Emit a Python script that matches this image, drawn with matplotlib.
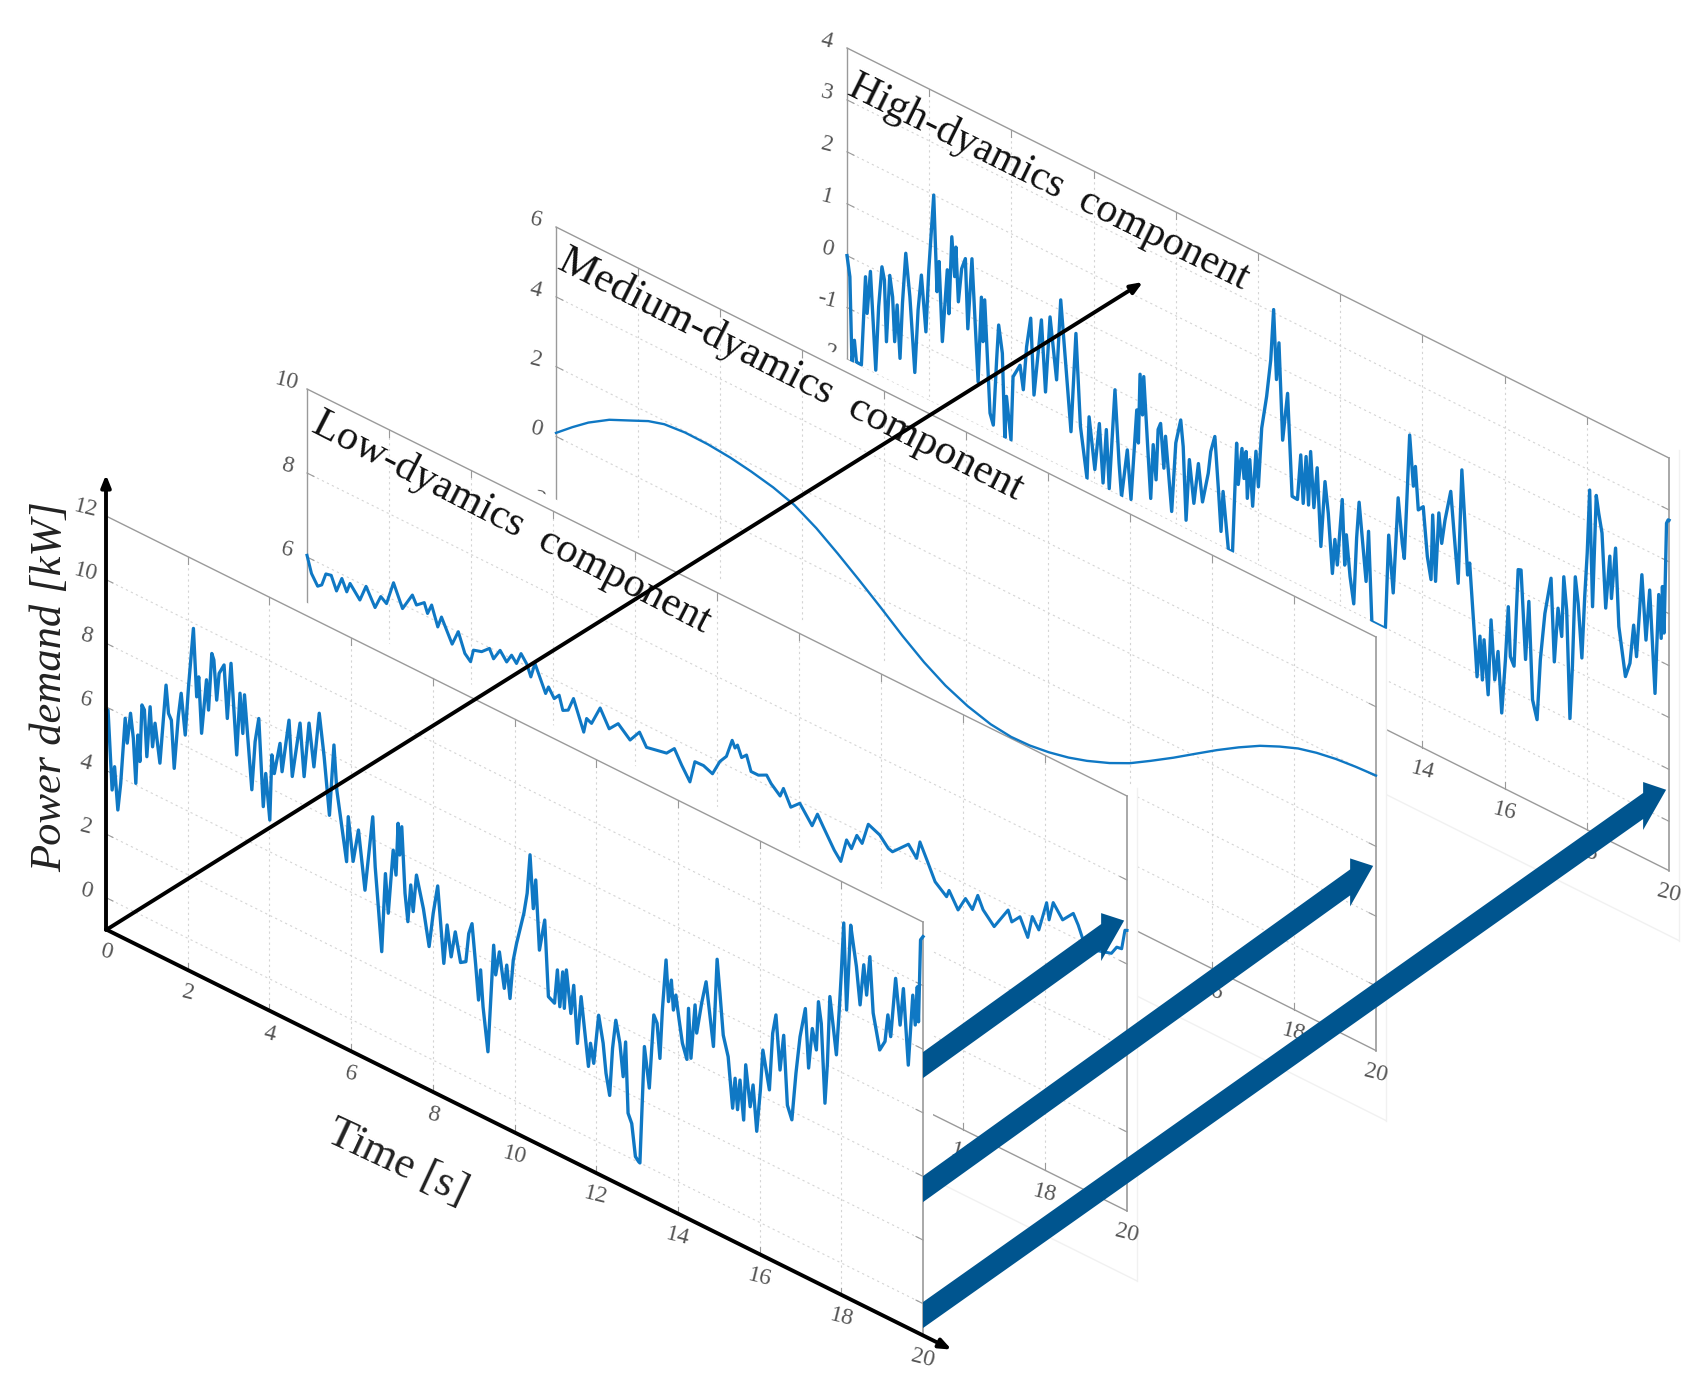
import numpy as np
import matplotlib
matplotlib.use('Agg')
import matplotlib.pyplot as plt
from matplotlib.patches import Polygon
from matplotlib.transforms import Affine2D, offset_copy

plt.rcParams['font.family'] = ['Liberation Serif', 'DejaVu Serif']

time_ticks = list(range(0, 21, 2))

front_t = [0, .05, .10, .15, .21, .29, .36, .47, .52, .60, .67, .73, .78, .83, .88, .94, 1.00, 1.08, 1.14, 1.20,
           1.32, 1.47, 1.53, 1.60, 1.67, 1.77, 1.84, 1.94, 2.02, 2.14, 2.22, 2.27, 2.34, 2.46, 2.51, 2.59, 2.64, 2.71,
           2.77, 2.89, 2.97, 3.06, 3.20, 3.28, 3.35, 3.39, 3.57, 3.65, 3.74, 3.85, 3.91, 4.01, 4.06, 4.12, 4.26, 4.31,
           4.48, 4.56, 4.75, 4.85, 4.97, 5.09, 5.22, 5.34, 5.47, 5.58, 5.65, 5.74, 5.89, 5.93, 6.05, 6.18, 6.34, 6.53,
           6.59, 6.66, 6.75, 6.84, 6.91, 7.03, 7.10, 7.15, 7.19, 7.24, 7.32, 7.39, 7.46, 7.52, 7.60, 7.77, 7.91, 8.01,
           8.12, 8.27, 8.35, 8.45, 8.55, 8.68, 8.81, 8.88, 8.96, 9.05, 9.12, 9.17, 9.23, 9.35, 9.49, 9.54, 9.63, 9.75,
           9.81, 9.89, 9.97, 10.05, 10.23, 10.31, 10.38, 10.46, 10.52, 10.61, 10.74, 10.83, 10.98, 11.05, 11.11, 11.18,
           11.22, 11.27, 11.38, 11.45, 11.54, 11.63, 11.81, 11.86, 11.94, 12.06, 12.17, 12.24, 12.33, 12.40, 12.48,
           12.58, 12.66, 12.72, 12.78, 12.87, 12.96, 13.04, 13.07, 13.18, 13.30, 13.35, 13.41, 13.49, 13.56, 13.62,
           13.71, 13.77, 13.84, 13.89, 13.95, 14.03, 14.11, 14.22, 14.26, 14.32, 14.42, 14.46, 14.58, 14.69, 14.77,
           14.87, 14.96, 15.03, 15.11, 15.23, 15.34, 15.40, 15.46, 15.52, 15.61, 15.66, 15.77, 15.84, 15.93, 16.02,
           16.08, 16.24, 16.32, 16.40, 16.50, 16.59, 16.68, 16.79, 16.89, 16.99, 17.12, 17.20, 17.29, 17.39, 17.44,
           17.51, 17.60, 17.66, 17.72, 17.88, 17.95, 18.00, 18.06, 18.13, 18.23, 18.29, 18.37, 18.46, 18.55, 18.62,
           18.70, 18.78, 18.94, 19.07, 19.14, 19.21, 19.33, 19.44, 19.52, 19.64, 19.75, 19.81, 19.86, 19.89, 19.94, 20]
front_power = [5.90, 5.93, 4.71, 3.48, 4.25, 2.94, 3.82, 5.94, 5.19, 6.18, 5.43, 4.06, 5.61, 4.81, 6.62, 6.50, 5.07, 6.69,
               5.47, 6.25, 5.07, 7.62, 6.77, 6.60, 5.13, 6.82, 7.60, 6.35, 7.92, 9.83, 7.73, 8.39, 6.66, 8.42, 7.50, 9.33,
               9.16, 7.94, 8.82, 9.16, 7.53, 9.32, 6.53, 8.52, 7.30, 8.54, 5.67, 7.23, 8.02, 5.32, 6.40, 5.00, 7.08, 6.53,
               7.57, 6.71, 8.44, 6.72, 8.52, 6.90, 8.66, 7.36, 9.13, 7.84, 6.08, 8.36, 6.99, 6.21, 4.89, 6.33, 5.00, 6.07,
               4.28, 6.71, 5.17, 4.07, 2.61, 5.12, 3.92, 5.98, 5.24, 6.90, 5.93, 6.85, 4.81, 3.96, 5.16, 4.36, 5.56, 4.61,
               3.51, 4.62, 5.55, 3.21, 4.47, 3.53, 4.38, 3.50, 3.61, 4.54, 4.90, 3.66, 2.60, 3.58, 2.46, 1.12, 4.56, 3.66,
               4.44, 3.37, 4.14, 3.14, 4.40, 4.97, 6.04, 6.72, 7.97, 6.33, 7.27, 5.12, 6.15, 3.80, 3.69, 4.78, 3.66, 4.80,
               3.68, 4.92, 3.62, 4.55, 2.78, 4.31, 2.23, 2.99, 2.41, 4.00, 3.19, 2.29, 1.65, 3.17, 4.11, 3.45, 2.45, 3.58,
               1.38, 1.11, .13, .02, 0, 3.73, 2.50, 3.58, 4.87, 4.66, 3.60, 5.16, 6.79, 5.52, 6.24, 5.33, 5.84, 5.11, 4.43,
               3.99, 5.62, 4.09, 5.83, 4.97, 5.98, 6.73, 5.89, 4.81, 7.61, 6.58, 5.32, 4.72, 3.17, 4.15, 3.20, 4.17, 2.97,
               4.74, 3.49, 4.22, 2.82, 4.19, 5.47, 4.32, 6.15, 6.78, 5.11, 6.26, 4.12, 3.73, 5.26, 6.47, 7.44, 5.62, 6.92,
               6.31, 7.86, 7.22, 4.77, 6.06, 8.20, 6.47, 7.92, 9.11, 10.73, 8.04, 10.77, 10.24, 9.56, 8.41, 9.73, 8.82,
               10.08, 8.36, 7.30, 7.65, 8.53, 7.89, 9.80, 8.40, 9.60, 7.27, 9.54, 8.64, 9.87, 8.79, 11.40, 11.54]

low_t = [0, .11, .26, .36, .46, .59, .72, .85, .97, 1.05, 1.29, 1.44, 1.66, 1.80, 1.94, 2.11, 2.33, 2.57, 2.67, 2.86, 2.94,
         3.04, 3.19, 3.28, 3.54, 3.69, 3.85, 3.99, 4.06, 4.26, 4.45, 4.55, 4.71, 4.87, 4.99, 5.11, 5.22, 5.36, 5.46, 5.56,
         5.82, 5.89, 6.03, 6.15, 6.24, 6.37, 6.50, 6.75, 6.82, 6.94, 7.15, 7.37, 7.59, 7.88, 8.11, 8.28, 8.77, 8.96, 9.14,
         9.34, 9.46, 9.67, 9.89, 10.07, 10.23, 10.37, 10.44, 10.50, 10.60, 10.72, 10.83, 11.01, 11.21, 11.32, 11.54, 11.62,
         11.80, 12.02, 12.32, 12.45, 12.59, 12.86, 13.02, 13.16, 13.28, 13.41, 13.54, 13.69, 13.97, 14.18, 14.28, 14.67,
         14.87, 14.95, 15.15, 15.32, 15.60, 15.66, 15.88, 16.06, 16.23, 16.36, 16.49, 16.76, 17.10, 17.19, 17.39, 17.58,
         17.69, 17.85, 18.04, 18.10, 18.20, 18.43, 18.69, 18.81, 18.93, 19.22, 19.62, 19.75, 19.87, 19.95, 20]
low_power = [6.04, 5.66, 5.43, 5.51, 5.82, 5.85, 5.54, 5.90, 5.64, 5.88, 5.60, 6.00, 5.60, 5.93, 5.83, 6.41, 5.90, 6.34, 6.15,
             6.30, 6.08, 6.33, 5.88, 6.16, 5.64, 6.01, 5.57, 5.44, 5.75, 5.81, 5.98, 5.78, 6.06, 5.86, 6.08, 5.94, 6.23, 6.05,
             5.79, 6.16, 5.57, 5.76, 5.55, 5.69, 5.37, 5.44, 5.78, 5.10, 5.46, 5.40, 5.87, 5.48, 5.71, 5.46, 5.76, 5.48, 5.58,
             5.78, 5.47, 5.17, 5.71, 5.72, 5.63, 6.01, 6.21, 6.66, 6.51, 6.61, 6.36, 6.48, 6.14, 6.14, 6.24, 6.09, 5.90, 6.12,
             5.76, 5.96, 5.57, 5.91, 5.68, 5.25, 5.06, 5.64, 5.49, 5.87, 5.74, 6.27, 6.15, 5.93, 5.90, 6.27, 6.03, 6.46, 6.05,
             5.69, 5.47, 5.65, 5.29, 5.65, 5.47, 5.87, 5.59, 5.32, 5.88, 5.64, 5.86, 5.46, 6.01, 5.77, 6.51, 6.13, 6.59, 6.29,
             6.57, 6.35, 6.05, 5.95, 6.07, 6.28, 6.30, 6.78, 6.80]

medium_t = [0, .4, .79, 1.3, 1.85, 2.25, 2.64, 3.15, 3.70, 4.25, 4.76, 5.3, 5.81, 6.35, 6.87, 7.4, 7.93, 8.45, 8.98, 9.5, 10.04,
            10.6, 11.1, 11.55, 12.02, 12.5, 12.95, 13.5, 14.0, 14.5, 15.06, 15.6, 16.12, 16.65, 17.17, 17.65, 18.10, 18.55,
            19.02, 19.5, 20]
medium_power = [.1, .5, .86, 1.24, 1.54, 1.76, 1.9, 1.96, 1.95, 1.89, 1.79, 1.65, 1.45, 1.1, .68, .22, -.26, -.75, -1.2, -1.56,
                -1.83, -2.02, -2.09, -2.07, -1.99, -1.86, -1.69, -1.43, -1.14, -.78, -.36, .07, .48, .87, 1.22, 1.48, 1.69,
                1.83, 1.93, 1.99, 2.03]

high_t = [0, .07, .12, .18, .23, .35, .45, .49, .57, .70, .77, .85, .91, .96, 1.04, 1.11, 1.16, 1.22, 1.29, 1.35, 1.43, 1.53, 1.65,
          1.73, 1.81, 1.92, 1.99, 2.11, 2.19, 2.24, 2.32, 2.44, 2.48, 2.55, 2.62, 2.65, 2.71, 2.79, 2.88, 2.94, 3.04, 3.19, 3.27,
          3.31, 3.35, 3.48, 3.56, 3.64, 3.69, 3.78, 3.84, 3.88, 3.99, 4.04, 4.21, 4.29, 4.37, 4.47, 4.55, 4.73, 4.83, 4.94, 5.10,
          5.20, 5.33, 5.45, 5.57, 5.68, 5.84, 5.89, 6.03, 6.14, 6.23, 6.31, 6.38, 6.52, 6.62, 6.68, 6.82, 6.91, 7.05, 7.09, 7.13,
          7.19, 7.22, 7.33, 7.39, 7.45, 7.52, 7.57, 7.63, 7.71, 7.75, 7.90, 8.00, 8.12, 8.18, 8.25, 8.33, 8.44, 8.55, 8.65, 8.79,
          8.85, 8.95, 9.04, 9.10, 9.15, 9.28, 9.38, 9.48, 9.52, 9.61, 9.66, 9.71, 9.74, 9.80, 9.87, 9.95, 10.01, 10.09, 10.21,
          10.31, 10.38, 10.45, 10.51, 10.60, 10.72, 10.83, 10.96, 11.04, 11.10, 11.17, 11.23, 11.28, 11.36, 11.44, 11.53, 11.63,
          11.71, 11.81, 11.87, 11.93, 12.05, 12.11, 12.15, 12.24, 12.33, 12.40, 12.46, 12.63, 12.69, 12.77, 13.10, 13.18, 13.29,
          13.41, 13.51, 13.56, 13.69, 13.78, 13.83, 13.90, 14.02, 14.12, 14.21, 14.25, 14.32, 14.40, 14.47, 14.55, 14.69, 14.77,
          14.87, 14.96, 15.03, 15.10, 15.15, 15.21, 15.29, 15.33, 15.40, 15.46, 15.50, 15.60, 15.67, 15.76, 15.84, 15.93, 16.02,
          16.09, 16.14, 16.23, 16.33, 16.40, 16.51, 16.59, 16.68, 16.79, 16.87, 16.98, 17.13, 17.21, 17.30, 17.39, 17.44, 17.51,
          17.59, 17.65, 17.72, 17.79, 17.88, 17.95, 18.01, 18.07, 18.14, 18.23, 18.29, 18.37, 18.46, 18.56, 18.60, 18.70, 18.78,
          18.94, 19.05, 19.14, 19.21, 19.34, 19.44, 19.53, 19.66, 19.75, 19.81, 19.84, 19.88, 19.94, 19.98, 20]
high_power = [0, -.38, -2.00, -1.56, -1.96, -1.97, -.23, -.92, -.08, -1.93, -.68, .12, -.11, -1.28, .03, -.36, -1.20, -.47, -1.47,
              -.38, .61, -.19, -1.60, -.36, .34, -.71, .51, 2.00, .17, .77, -.74, .69, -.14, 1.37, .63, 1.21, .18, .85, 1.08, -.25,
              1.14, -1.17, .49, -.35, .47, -1.66, -1.86, -.58, .12, -.39, -2.00, -1.18, -1.98, -.74, -.45, -.89, -.03, .56, -.89,
              .63, -.72, .77, -.38, 1.20, -.07, -1.24, .70, -1.05, -1.99, -.78, -1.74, -.81, -1.92, -.86, -1.97, -.01, -1.39, -2.01,
              -1.05, -1.97, -.19, -.81, .53, -.23, .52, -.98, -1.76, -.70, -1.35, -.36, -.22, -1.05, -.42, -1.81, -.45, .04, -.45,
              -1.84, -.64, -1.44, -.63, -1.33, -.72, -.28, .05, -.97, -1.72, -.93, -2.01, -2.00, .13, -.65, .08, -.48, .06, -.83,
              -.06, -.93, .16, -.50, .66, 1.32, 2.06, 3.06, 1.74, 2.47, .63, 1.58, -.36, -.37, .52, -.39, .54, -.37, .68, -.37, .43,
              -1.05, .24, -.34, -1.46, -.78, -1.25, .06, -1.18, -.58, -1.35, -1.84, -.54, .17, -1.29, -.30, -2.01, -2.01, -.18,
              -1.25, .63, -.21, -.48, 1.95, 1.00, 1.40, .59, .70, -.22, -.63, .63, -.62, .73, .17, .65, 1.26, .49, -.44, 1.78, .84,
              -.19, .06, -.63, -1.55, -2.06, -1.25, -2.07, -1.28, -2.30, -.83, -1.95, -1.37, -2.52, -1.46, -.41, -1.35, -1.50, .40,
              .42, -1.26, -.11, -1.97, -2.31, -1.12, -.19, .55, -1.03, .04, -.47, .70, .09, -1.97, -.94, .81, .33, -.69, .53, 1.38,
              2.62, .40, 2.58, 2.26, 1.91, .50, 1.54, .74, 1.75, .27, -.63, -.33, .44, -.14, 1.49, .27, 1.27, -.67, 1.27, .45, 1.46,
              .58, 2.72, 2.80, 2.80]

power_ticks_front = list(range(0, 13, 2))
power_ticks_low = list(range(2, 11, 2))
power_ticks_medium = list(range(-4, 7, 2))
power_ticks_high = list(range(-3, 5))

blue = '#0f78c4'
arrow_blue = '#00558f'
edge_gray = '#9a9a9a'
grid_gray = '#d4d4d4'
label_gray = '#555555'
sheet_gray = '#f1f1f1'

fig = plt.figure(figsize=(17.02, 13.97), dpi=100)
ax = fig.add_axes([0, 0, 1, 1])
ax.set_xlim(0, 1702)
ax.set_ylim(1397, 0)
ax.axis('off')


def panel_transform(x0, y0, dx, dy, unit, vtop):
    # skewed (t, value) -> picture pixels
    return Affine2D(np.array([[dx, 0, x0], [dy, -unit, y0 + unit * vtop], [0, 0, 1]])) + ax.transData


def draw_panel(x0, y0, dx, dy, unit, vbot, vtop, yticks, z, first_label=0, back=True):
    tr = panel_transform(x0, y0, dx, dy, unit, vtop)

    # white sheet the panel sits on, it hides whatever is behind
    sheet_t = [-45 / dx, 20 + 10 / dx, 20 + 10 / dx, -45 / dx]
    sheet_v = [vtop + 13 / unit, vtop + 13 / unit, vbot - 65 / unit, vbot - 65 / unit]
    ax.add_patch(Polygon(np.column_stack([sheet_t, sheet_v]), closed=True, facecolor='white', edgecolor='none',
                         transform=tr, zorder=z))
    if back:
        ax.plot(sheet_t[1:3], sheet_v[1:3], color=sheet_gray, lw=1, transform=tr, zorder=z)
        ax.plot([12, 20 + 10 / dx], sheet_v[2:], color=sheet_gray, lw=1, transform=tr, zorder=z)

    for t in time_ticks[1:-1]:
        ax.plot([t, t], [vbot, vtop], color=grid_gray, lw=0.8, ls=(0, (2, 3)), transform=tr, zorder=z + 1)
        ax.plot([t, t], [vbot, vbot + 7 / unit], color=edge_gray, lw=0.8, transform=tr, zorder=z + 1)
        ax.plot([t, t], [vtop, vtop - 7 / unit], color=edge_gray, lw=0.8, transform=tr, zorder=z + 1)
    for v in yticks:
        if v == vtop:
            continue
        ax.plot([0, 20], [v, v], color=grid_gray, lw=0.8, ls=(0, (2, 3)), transform=tr, zorder=z + 1)
        ax.plot([0, 0.17], [v, v], color=edge_gray, lw=0.8, transform=tr, zorder=z + 1)
        ax.plot([19.83, 20], [v, v], color=edge_gray, lw=0.8, transform=tr, zorder=z + 1)

    ax.plot([0, 20], [vtop, vtop], color=edge_gray, lw=1, transform=tr, zorder=z + 1)
    ax.plot([20, 20], [vbot, vtop], color=edge_gray, lw=1.2, transform=tr, zorder=z + 1)
    if back:
        ax.plot([0, 20], [vbot, vbot], color=edge_gray, lw=1, transform=tr, zorder=z + 1)
        ax.plot([0, 0], [vbot, vtop], color=edge_gray, lw=1, transform=tr, zorder=z + 1)

    ylab = offset_copy(tr, fig=fig, x=-20, y=7, units='dots')
    for v in yticks:
        ax.text(0, v, str(v), transform=ylab, ha='center', va='center', rotation=-14, rotation_mode='anchor',
                fontsize=17, color=label_gray, zorder=z + 1)
    xlab = offset_copy(tr, fig=fig, x=0, y=-23, units='dots')
    for t in time_ticks:
        if t >= first_label:
            ax.text(t, vbot, str(t), transform=xlab, ha='center', va='center', rotation=-14, rotation_mode='anchor',
                    fontsize=17, color=label_gray, zorder=z + 1)
    return tr


tr_high = draw_panel(847, 48, 41.1, 20.5, 51.9, -3.95, 4, power_ticks_high, 10, first_label=14)
ax.plot(high_t, high_power, color=blue, lw=2.4, transform=tr_high, zorder=12)

tr_medium = draw_panel(556, 227, 41, 20.5, 34.9, -5.85, 6, power_ticks_medium, 20, first_label=16)

tr_low = draw_panel(307, 389, 41, 20.35, 42, 0.12, 10, power_ticks_low, 30, first_label=16)
ax.plot(low_t, low_power, color=blue, lw=2.2, transform=tr_low, zorder=32)
# the smooth component stays visible over the edge of the next sheet
ax.plot(medium_t, medium_power, color=blue, lw=1.7, transform=tr_medium, zorder=33)

tr_front = draw_panel(106, 516, 40.85, 20.3, 31.8, -1, 12, power_ticks_front, 40, back=False)
ax.plot(front_t, front_power, color=blue, lw=2.4, transform=tr_front, zorder=42)


# thick arrows from the total power to each component
def component_arrow(v_from, tr_to, v_to):
    x0, y0 = tr_front.transform((20, v_from))
    x1, y1 = tr_to.transform((19.93, v_to))
    x0, y0 = ax.transData.inverted().transform((x0, y0))
    x1, y1 = ax.transData.inverted().transform((x1, y1))
    slope = (y1 - y0) / (x1 - x0)
    xb = x1 - 23
    yb = y1 - 23 * slope
    outline = [(x0, y0 - 13), (xb, yb - 13), (xb, yb - 24), (x1, y1), (xb, yb + 24), (xb, yb + 13), (x0, y0 + 13)]
    ax.add_patch(Polygon(outline, closed=True, facecolor=arrow_blue, edgecolor='none', zorder=55))


component_arrow(7.5, tr_low, 7.0)
component_arrow(3.6, tr_medium, -0.6)
component_arrow(-0.36, tr_high, -2.42)

# black axes of the whole drawing
black_props = dict(arrowstyle='-|>,head_length=0.7,head_width=0.28', color='black', lw=2.8, shrinkA=0, shrinkB=0)
ax.annotate('', xy=(0, 13.3), xytext=(0, -1), xycoords=tr_front, textcoords=tr_front, arrowprops=black_props, zorder=60)
ax.annotate('', xy=(20.7, -1), xytext=(0, -1), xycoords=tr_front, textcoords=tr_front, arrowprops=black_props, zorder=60)
ax.annotate('', xy=(1143, 282), xytext=(106, 930), xycoords='data', textcoords='data', arrowprops=black_props, zorder=60)

ax.text(846, 94, 'High-dyamics  component', fontsize=30, rotation=-26.3, rotation_mode='anchor', ha='left',
        va='baseline', color='#111111', zorder=52)
ax.text(556, 268, 'Medium-dyamics  component', fontsize=31, rotation=-26.8, rotation_mode='anchor', ha='left',
        va='baseline', color='#111111', zorder=52)
ax.text(310, 431, 'Low-dyamics  component', fontsize=30.5, rotation=-27.2, rotation_mode='anchor', ha='left',
        va='baseline', color='#111111', zorder=52)
ax.text(325, 1141, 'Time [s]', fontsize=32, rotation=-25, rotation_mode='anchor', ha='left', va='baseline',
        color='#222222', zorder=52)
ax.text(50, 687, 'Power demand [kW]', fontsize=32, rotation=90, ha='center', va='center', style='italic',
        color='#222222', zorder=52)

fig.savefig('out.png', dpi=100, facecolor='white')
